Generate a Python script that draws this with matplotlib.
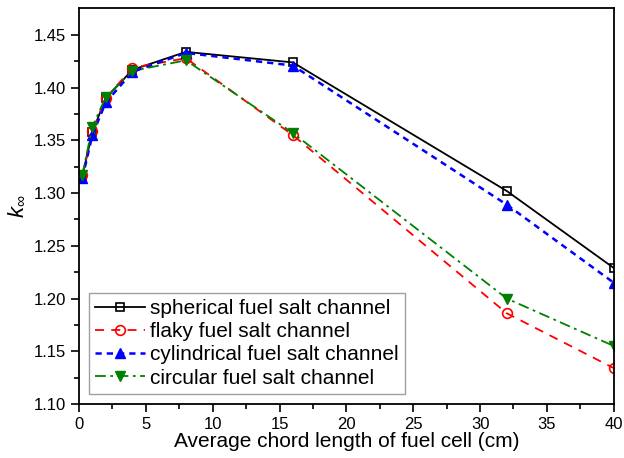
import numpy as np
import matplotlib.pyplot as plt

plt.rcParams['font.family'] = ['Liberation Sans', 'DejaVu Sans']
plt.rcParams['mathtext.fontset'] = 'custom'
plt.rcParams['mathtext.it'] = 'Liberation Sans:italic'
plt.rcParams['mathtext.rm'] = 'Liberation Sans'

chord = [0.25, 1, 2, 4, 8, 16, 32, 40]
k_spherical = [1.316, 1.358, 1.390, 1.417, 1.434, 1.424, 1.302, 1.229]
k_flaky = [1.317, 1.359, 1.390, 1.419, 1.428, 1.355, 1.186, 1.134]
k_cylindrical = [1.314, 1.355, 1.386, 1.415, 1.433, 1.421, 1.289, 1.215]
k_circular = [1.317, 1.363, 1.391, 1.416, 1.426, 1.357, 1.200, 1.155]

labels = ["spherical fuel salt channel", "flaky fuel salt channel",
          "cylindrical fuel salt channel", "circular fuel salt channel"]

fig = plt.figure(figsize=(6.24, 4.58), dpi=100)
ax = fig.add_axes([0.1266, 0.118, 0.857, 0.8645])

ax.plot(chord, k_spherical, color='black', ls='-', lw=1.3, marker='s', ms=6,
        mfc='none', mec='black', mew=1.2, label=labels[0])
ax.plot(chord, k_flaky, color='red', ls=(0, (5, 4)), lw=1.3, marker='o', ms=7,
        mfc='none', mec='red', mew=1.2, label=labels[1])
ax.plot(chord, k_cylindrical, color='blue', ls=(0, (2.5, 2)), lw=1.8, marker='^', ms=7,
        mfc='blue', mec='blue', label=labels[2])
ax.plot(chord, k_circular, color='green', ls=(0, (6, 2.5, 1.5, 2.5)), lw=1.3, marker='v', ms=7,
        mfc='green', mec='green', label=labels[3])

ax.set_xlim(0, 40)
ax.set_ylim(1.10, 1.4756)
ax.set_xticks(np.arange(0, 41, 5))
ax.set_xticks(np.arange(2.5, 40, 5), minor=True)
ax.set_yticks(np.arange(1.10, 1.451, 0.05))
ax.set_yticks(np.arange(1.125, 1.47, 0.05), minor=True)
ax.yaxis.set_major_formatter(plt.FormatStrFormatter('%.2f'))
ax.tick_params(which='major', direction='out', length=6, width=1.2, labelsize=12)
ax.tick_params(which='minor', direction='out', length=3.5, width=1.2)
for s in ax.spines.values():
    s.set_linewidth(1.3)

ax.set_xlabel("Average chord length of fuel cell (cm)", fontsize=15, labelpad=0)
ax.set_ylabel(r"$k_{\infty}$", fontsize=16, labelpad=4)

leg = ax.legend(loc='lower left', bbox_to_anchor=(0.01, 0.015), fontsize=15,
                frameon=True, fancybox=False, edgecolor='#888888', handlelength=2.4,
                handletextpad=0.25, borderpad=0.3, labelspacing=0.2, borderaxespad=0.2)
leg.get_frame().set_linewidth(1.0)

fig.savefig("out.png", dpi=100)
